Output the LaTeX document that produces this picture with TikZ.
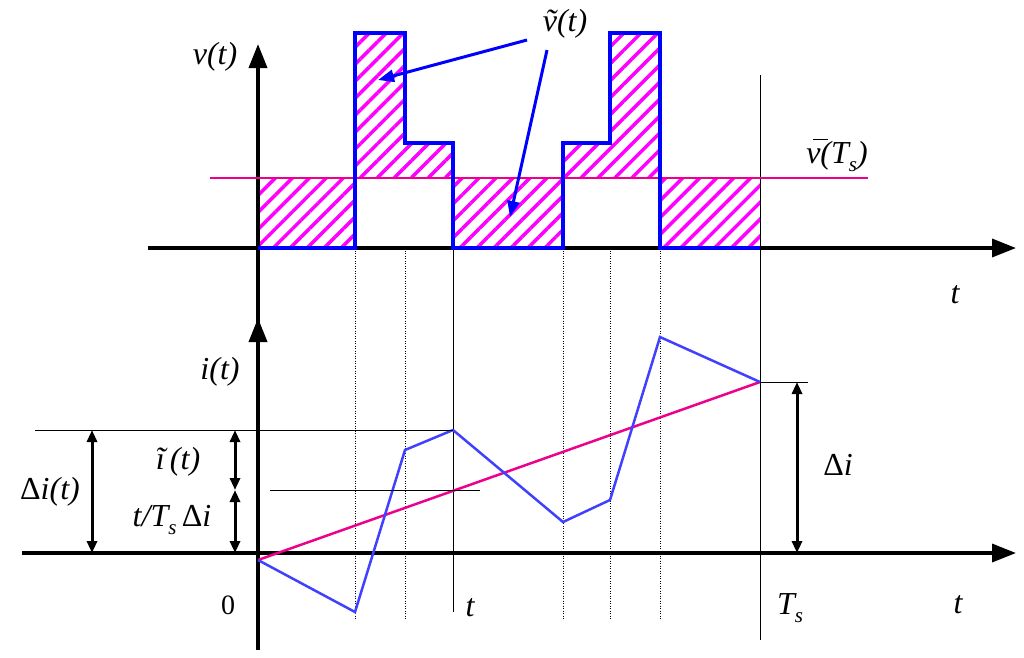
\documentclass[tikz,border=0pt]{standalone}
\usepackage{fontspec}
\setmainfont{Liberation Serif}
\usetikzlibrary{arrows.meta,patterns.meta}
\newcommand{\sbs}[1]{\raisebox{-0.25em}{\fontsize{21}{23}\selectfont #1}}
\newcommand{\ovl}[1]{\leavevmode\rlap{\raisebox{0.72em}{\kern0.22em\rule{0.45em}{1.5pt}}}#1}
\begin{document}
\begin{tikzpicture}[x=1pt,y=-1pt,
  axis/.style={line width=3.5pt,-{Triangle[length=24pt,width=18pt]}},
  lbl/.style={font=\fontsize{32}{34}\selectfont\itshape,inner sep=0pt},
  hatch/.style={pattern={Lines[angle=45,distance=12pt,line width=3.5pt]},pattern color=magenta},
  guide/.style={line width=0.5pt,dotted},
  thin/.style={line width=0.6pt},
  dim/.style={line width=3pt,{Triangle[length=12pt,width=10pt]}-{Triangle[length=12pt,width=10pt]}},
  pointer/.style={blue,line width=3pt,-{Triangle[length=16pt,width=12pt]}}]
\useasboundingbox (0,0) rectangle (1024,657);
\begin{scope}[every path/.style={hatch}]
\fill (258,178) rectangle (355,248);
\fill (355,33) rectangle (405,178);
\fill (405,143) rectangle (453,178);
\fill (453,178) rectangle (563,248);
\fill (563,143) rectangle (610,178);
\fill (610,33) rectangle (660,178);
\fill (660,178) rectangle (760,248);
\end{scope}
\foreach \x in {355,405,563,610,660} \draw[guide] (\x,248) -- (\x,620);
\draw[thin] (453,248) -- (453,612);
\draw[thin] (760,75) -- (760,640);
\coordinate (o1) at (148,248); \coordinate (e1) at (1016,248);
\coordinate (o2) at (22,553); \coordinate (e2) at (1016,553);
\coordinate (vb) at (258,650); \coordinate (vt) at (258,44);
\coordinate (vm) at (258,318);
\draw[axis] (o1) -- (e1);
\draw[axis] (o2) -- (e2);
\draw[axis] (vb) -- (vt);
\draw[axis] (258,330) -- (vm);
\draw[magenta,line width=2pt] (210,178) -- (868,178);
\draw[blue,line width=4pt,line join=miter] (258,248) -- (355,248) -- (355,33) -- (405,33) -- (405,143) -- (453,143) -- (453,248) -- (563,248) -- (563,143) -- (610,143) -- (610,33) -- (660,33) -- (660,248) -- (760,248);
\draw[magenta,line width=2.5pt] (258,560) -- (760,382);
\draw[blue!75!white,line width=2.5pt] (258,560) -- (355,612) -- (405,450) -- (453,430) -- (563,522) -- (610,500) -- (660,337) -- (760,382);
\draw[thin] (35,430) -- (453,430);
\draw[thin] (270,490) -- (480,490);
\draw[thin] (760,382) -- (808,382);
\draw[dim] (92,430) -- (92,553);
\draw[dim] (235,430) -- (235,490);
\draw[dim] (235,490) -- (235,553);
\draw[dim] (797,382) -- (797,553);
\node[lbl] (lv) at (215,57) {v(t)};
\node[lbl] (lvt) at (565,24) {\~v(t)};
\node[lbl] (lvb) at (837,155) {\ovl{v}(T\sbs{s})};
\node[lbl] at (955,295) {t};
\node[lbl] at (220,372) {i(t)};
\node[lbl] at (958,605) {t};
\node[lbl,font=\fontsize{28}{30}\selectfont] at (228,605) {0};
\node[lbl] at (470,608) {t};
\node[lbl] at (790,608) {T\sbs{s}};
\node[lbl] at (50,492) {{\upshape Δ}i(t)};
\node[lbl] at (178,462) {ĩ\,(t)};
\node[lbl] at (172,520) {t/T\sbs{s}\,{\upshape Δ}i};
\node[lbl] at (838,465) {{\upshape Δ}i};
\coordinate (p1) at (378,80); \coordinate (p2) at (510,217);
\draw[pointer] (527,40) -- (p1);
\draw[pointer] (547,50) -- (p2);
\end{tikzpicture}
\end{document}
